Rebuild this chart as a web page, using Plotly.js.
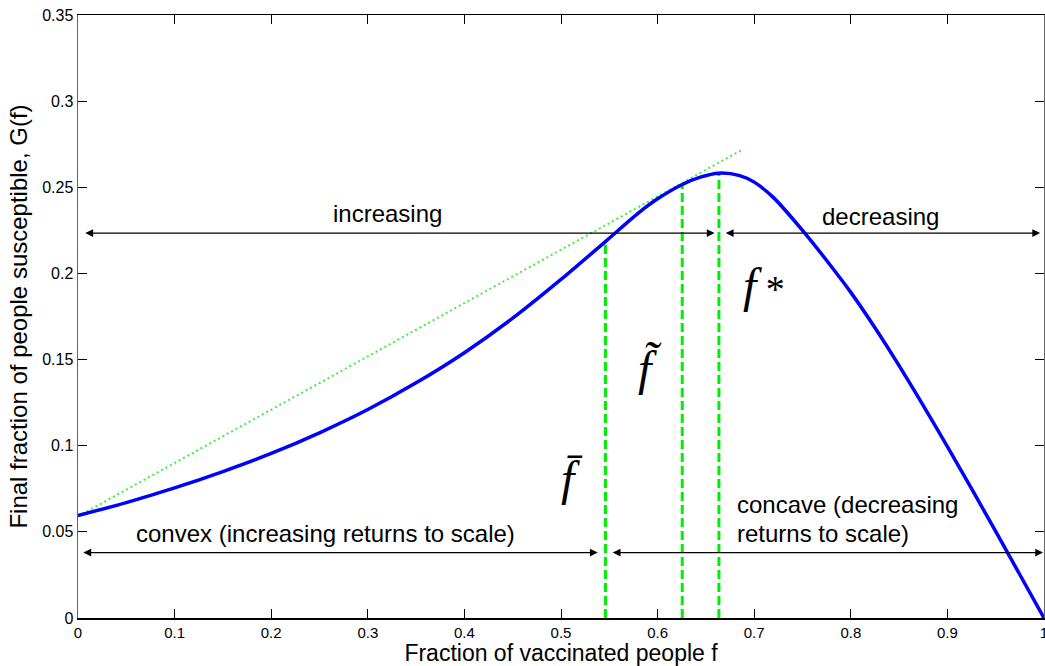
<!DOCTYPE html>
<html>
<head>
<meta charset="utf-8">
<script src="https://cdn.plot.ly/plotly-3.0.1.min.js"></script>
<style>html,body{margin:0;padding:0;background:#fff}</style>
</head>
<body>
<div id="chart" style="width:1045px;height:666px"></div>
<script>
// Curve G(f)
const fVals = [0, 0.05, 0.1, 0.15, 0.2, 0.25, 0.3, 0.35, 0.4, 0.45, 0.5, 0.546, 0.58, 0.6, 0.625, 0.645, 0.663, 0.685, 0.7, 0.72, 0.75, 0.775, 0.8, 0.825, 0.85, 0.9, 0.95, 1.0];
const gVals = [0.0595, 0.0670, 0.0755, 0.0850, 0.0955, 0.1075, 0.1210, 0.1365, 0.1540, 0.1740, 0.1965, 0.2185, 0.2350, 0.2433, 0.2515, 0.2560, 0.2582, 0.2568, 0.2530, 0.2440, 0.2250, 0.2075, 0.1890, 0.1685, 0.1465, 0.0995, 0.0503, 0.0];
// Tangent (dotted) line endpoints
const tangentX = [0, 0.687];
const tangentY = [0.059, 0.2716];
// Vertical markers: f-bar, f-tilde, f-star
const markerX = [0.546, 0.6255, 0.6635];
const markerTop = [0.2185, 0.2517, 0.2582];
const markerNames = ['f\u0304', 'f\u0303', 'f*'];
// Range arrows [x0, x1, y]
const arrowStart = [0.006, 0.669, 0.004, 0.552];
const arrowEnd = [0.659, 0.996, 0.538, 0.999];
const arrowY = [0.2234, 0.2234, 0.038, 0.038];
// Text labels
const labelText = ['increasing', 'decreasing', 'convex (increasing returns to scale)', 'concave (decreasing', 'returns to scale)'];
const labelX = [0.32, 0.831, 0.256, 0.680, 0.680];
const labelY = [0.235, 0.2333, 0.0488, 0.0656, 0.0488];
const labelAnchor = ['center', 'center', 'center', 'left', 'left'];
// Math symbol labels
const symText = ['<i>f\u0304</i>', '<i>f\u0303</i>', '<i>f</i><span style="font-size:38px"> *</span>'];
const symX = [0.511, 0.592, 0.710];
const symY = [0.081, 0.145, 0.193];
// Ticks
const xTicks = [0, 0.1, 0.2, 0.3, 0.4, 0.5, 0.6, 0.7, 0.8, 0.9, 1];
const yTicks = [0, 0.05, 0.1, 0.15, 0.2, 0.25, 0.3, 0.35];

const traces = [];
traces.push({x: tangentX, y: tangentY, mode: 'lines', line: {color: '#3cf03c', width: 2, dash: '2px,3px'}, hoverinfo: 'skip'});
markerX.forEach((mx, i) => {
  traces.push({x: [mx, mx], y: [0, markerTop[i]], mode: 'lines', name: markerNames[i],
    line: {color: '#00ee00', width: 3, dash: '9px,4px'}, hoverinfo: 'skip'});
});
traces.push({x: fVals, y: gVals, mode: 'lines', line: {color: '#0000ff', width: 3.5, shape: 'spline', smoothing: 0.8}});

const annotations = [];
arrowStart.forEach((x0, i) => {
  annotations.push({x: arrowEnd[i], y: arrowY[i], ax: x0, ay: arrowY[i], xref: 'x', yref: 'y', axref: 'x', ayref: 'y',
    text: '', showarrow: true, arrowhead: 2, startarrowhead: 2, arrowside: 'end+start', arrowsize: 1.3, startarrowsize: 1.3,
    arrowwidth: 1.2, arrowcolor: '#000', standoff: 0, startstandoff: 0});
});
labelText.forEach((t, i) => {
  annotations.push({x: labelX[i], y: labelY[i], xref: 'x', yref: 'y', text: t, showarrow: false,
    xanchor: labelAnchor[i], yanchor: 'middle', font: {family: 'Liberation Sans, Arial, sans-serif', size: 24, color: '#000'}});
});
symText.forEach((t, i) => {
  annotations.push({x: symX[i], y: symY[i], xref: 'x', yref: 'y', text: t, showarrow: false,
    xanchor: 'center', yanchor: 'middle', font: {family: 'Liberation Serif, Times New Roman, serif', size: 48, color: '#000'}});
});

const layout = {
  width: 1045, height: 666,
  margin: {l: 78, r: 1, t: 15, b: 48},
  paper_bgcolor: '#fff', plot_bgcolor: '#fff',
  showlegend: false,
  font: {family: 'Liberation Sans, Arial, sans-serif', color: '#000'},
  xaxis: {range: [0, 1], tickvals: xTicks, ticks: 'inside', ticklen: 9, tickcolor: '#000', showgrid: false, zeroline: false,
    showline: true, linecolor: '#000', linewidth: 1.5, mirror: 'ticks', tickfont: {size: 15}, ticklabeloverflow: 'allow',
    title: {text: 'Fraction of vaccinated people f', font: {size: 23}, standoff: 5}},
  yaxis: {range: [0, 0.35], tickvals: yTicks, ticks: 'inside', ticklen: 9, tickcolor: '#000', showgrid: false, zeroline: false,
    showline: true, linecolor: '#666', linewidth: 1.5, mirror: 'ticks', tickfont: {size: 16}, ticklabeloverflow: 'allow',
    title: {text: 'Final fraction of people susceptible, G(f)', font: {size: 24}, standoff: 8}},
  annotations: annotations
};
Plotly.newPlot('chart', traces, layout, {displayModeBar: false, staticPlot: true});
</script>
</body>
</html>
